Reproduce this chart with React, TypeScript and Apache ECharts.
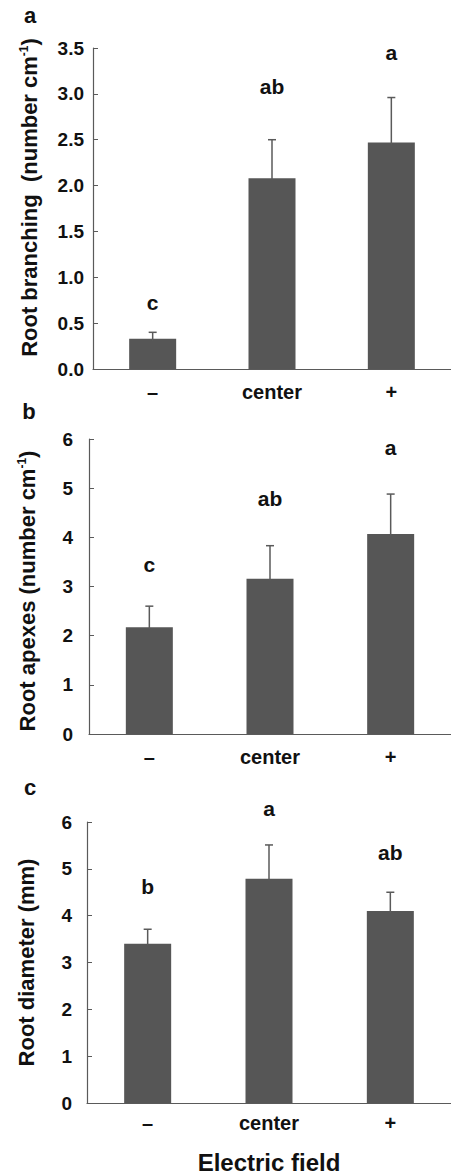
import React, { useEffect, useRef } from "react";
import * as echarts from "echarts";

const categories = ["–", "center", "+"];

const branchingMean = [0.33, 2.08, 2.47];
const branchingErr = [0.07, 0.42, 0.49];
const branchingLetters = ["c", "ab", "a"];
const branchingLetterY = [0.73, 3.08, 3.45];

const apexesMean = [2.17, 3.16, 4.07];
const apexesErr = [0.43, 0.67, 0.81];
const apexesLetters = ["c", "ab", "a"];
const apexesLetterY = [3.45, 4.8, 5.83];

const diameterMean = [3.4, 4.79, 4.1];
const diameterErr = [0.31, 0.72, 0.4];
const diameterLetters = ["b", "a", "ab"];
const diameterLetterY = [4.63, 6.29, 5.34];

const FONT = "'Liberation Sans', Arial, Helvetica, sans-serif";
const AXIS_COLOR = "#5a5a5a";
const BAR_COLOR = "#565656";
const TEXT_COLOR = "#111111";

export default function App() {
  const ref = useRef<HTMLDivElement>(null);

  useEffect(() => {
    if (!ref.current) return;
    const chart = echarts.init(ref.current, undefined, { renderer: "svg" });

    const grids = [
      { left: 93, top: 48, right: 0, height: 321 },
      { left: 89, top: 439, right: 0, height: 295 },
      { left: 87, top: 822, right: 0, height: 284 },
    ];

    const panels = [
      {
        mean: branchingMean, err: branchingErr, letters: branchingLetters, letterY: branchingLetterY,
        max: 3.5, interval: 0.5, decimals: 1,
        name: "Root branching  (number cm{sup|-1})", nameGap: 53, namePad: [0, 0, 0, 22],
        labelMargin: 9, xMargin: 13,
      },
      {
        mean: apexesMean, err: apexesErr, letters: apexesLetters, letterY: apexesLetterY,
        max: 6, interval: 1, decimals: 0,
        name: "Root apexes (number cm{sup|-1})", nameGap: 51, namePad: [0, 9, 0, 0],
        labelMargin: 16, xMargin: 13,
      },
      {
        mean: diameterMean, err: diameterErr, letters: diameterLetters, letterY: diameterLetterY,
        max: 6, interval: 1, decimals: 0,
        name: "Root diameter (mm)", nameGap: 50, namePad: [0, 0, 0, 0],
        labelMargin: 15, xMargin: 10,
      },
    ];

    const xAxis: any[] = [];
    const yAxis: any[] = [];
    const series: any[] = [];

    panels.forEach((p, i) => {
      xAxis.push({
        type: "category",
        gridIndex: i,
        data: categories,
        axisLine: { lineStyle: { color: AXIS_COLOR, width: 1.2 } },
        axisTick: { show: false },
        axisLabel: {
          color: TEXT_COLOR,
          fontFamily: FONT,
          fontWeight: "bold",
          fontSize: 20,
          margin: p.xMargin,
        },
        ...(i === 2
          ? {
              name: "Electric field",
              nameLocation: "middle",
              nameGap: 47,
              nameTextStyle: { color: TEXT_COLOR, fontFamily: FONT, fontWeight: "bold", fontSize: 24 },
            }
          : {}),
      });
      yAxis.push({
        type: "value",
        gridIndex: i,
        min: 0,
        max: p.max,
        interval: p.interval,
        splitLine: { show: false },
        axisLine: { show: true, lineStyle: { color: AXIS_COLOR, width: 1.2 } },
        axisTick: { show: true, inside: true, length: 5, lineStyle: { color: AXIS_COLOR } },
        axisLabel: {
          color: TEXT_COLOR,
          fontFamily: FONT,
          fontWeight: "bold",
          fontSize: 19,
          margin: p.labelMargin,
          formatter: (v: number) => v.toFixed(p.decimals),
        },
        name: p.name,
        nameLocation: "middle",
        nameGap: p.nameGap,
        nameRotate: 90,
        nameTextStyle: {
          color: TEXT_COLOR,
          fontFamily: FONT,
          fontWeight: "bold",
          fontSize: 22,
          padding: p.namePad,
          rich: {
            sup: {
              fontFamily: FONT,
              fontWeight: "bold",
              fontSize: 12,
              verticalAlign: "top",
              lineHeight: 12,
              color: TEXT_COLOR,
            },
          },
        },
      });

      series.push({
        type: "bar",
        xAxisIndex: i,
        yAxisIndex: i,
        data: p.mean,
        barWidth: 47,
        itemStyle: { color: BAR_COLOR },
        z: 2,
      });

      series.push({
        type: "custom",
        xAxisIndex: i,
        yAxisIndex: i,
        data: categories.map((_, k) => [k, p.mean[k], p.err[k]]),
        encode: { x: 0, y: 1 },
        z: 3,
        renderItem: (_params: any, api: any) => {
          const x = api.value(0);
          const m = api.value(1);
          const e = api.value(2);
          const p0 = api.coord([x, m]);
          const p1 = api.coord([x, m + e]);
          const style = { stroke: AXIS_COLOR, lineWidth: 1.5 };
          return {
            type: "group",
            children: [
              { type: "line", shape: { x1: p0[0], y1: p0[1] + 2, x2: p1[0], y2: p1[1] }, style },
              { type: "line", shape: { x1: p1[0] - 4, y1: p1[1], x2: p1[0] + 4, y2: p1[1] }, style },
            ],
          };
        },
      });

      series.push({
        type: "custom",
        xAxisIndex: i,
        yAxisIndex: i,
        data: categories.map((_, k) => [k, p.letterY[k]]),
        encode: { x: 0, y: 1 },
        clip: false,
        z: 4,
        renderItem: (params: any, api: any) => {
          const pt = api.coord([api.value(0), api.value(1)]);
          return {
            type: "text",
            x: pt[0],
            y: pt[1],
            style: {
              text: p.letters[params.dataIndex],
              fill: TEXT_COLOR,
              font: `bold 21px ${FONT}`,
              align: "center",
              verticalAlign: "middle",
            },
          };
        },
      });
    });

    const panelLabel = (text: string, x: number, y: number) => ({
      type: "text",
      x,
      y,
      style: {
        text,
        fill: TEXT_COLOR,
        font: `bold 22px ${FONT}`,
        textAlign: "center",
        textVerticalAlign: "middle",
      },
    });

    chart.setOption({
      animation: false,
      backgroundColor: "#ffffff",
      grid: grids,
      xAxis,
      yAxis,
      series,
      graphic: [
        panelLabel("a", 30, 15),
        panelLabel("b", 29, 411),
        panelLabel("c", 30, 787),
      ],
    });

    return () => chart.dispose();
  }, []);

  return (
    <div
      ref={ref}
      style={{ position: "absolute", left: 0, top: 0, width: 451, height: 1175 }}
    />
  );
}
